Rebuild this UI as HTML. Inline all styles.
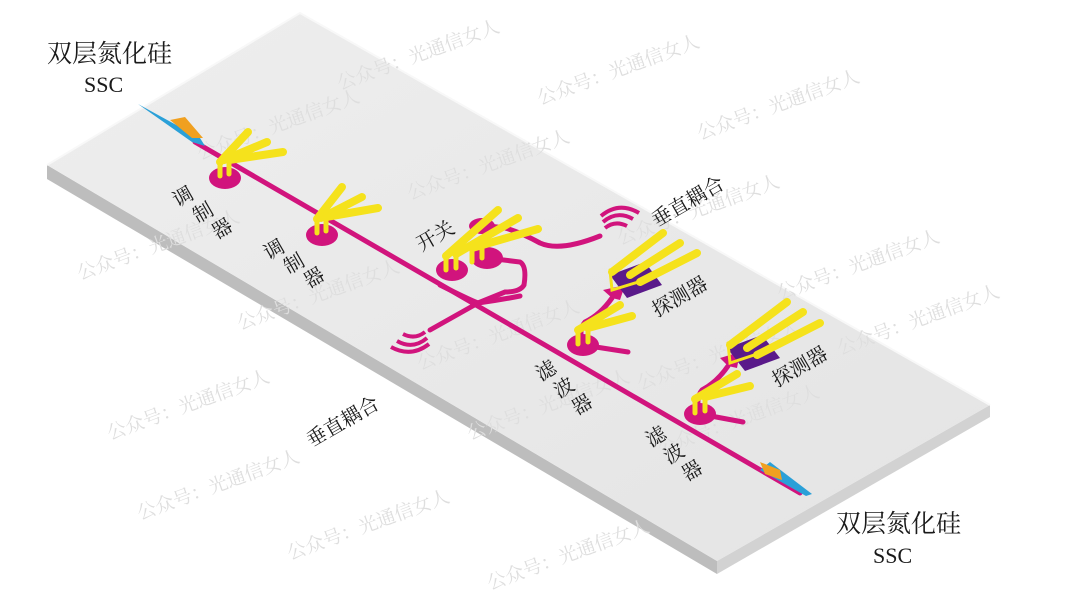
<!DOCTYPE html>
<html><head><meta charset="utf-8"><style>
html,body{margin:0;padding:0;background:#fff;}
svg{display:block;}
text{font-family:"Liberation Serif","Noto Serif CJK SC","Noto Sans CJK SC",serif;fill:#1a1a1a;}
.wm{fill:#dedede;font-size:19px;font-family:"Liberation Serif","Noto Serif CJK SC",serif;}
.lb{font-size:20px;}
</style></head><body>
<svg width="1080" height="608" viewBox="0 0 1080 608" xmlns="http://www.w3.org/2000/svg">
<defs>
<linearGradient id="top" x1="0" y1="0" x2="1" y2="1">
<stop offset="0" stop-color="#eeeeee"/><stop offset="1" stop-color="#e4e4e4"/></linearGradient>
</defs>
<polygon points="47,165 717,561 717,574 47,179" fill="#bdbdbd"/>
<polygon points="717,561 990,405 990,417 717,574" fill="#d2d2d2"/>
<polygon points="300,13 990,405 717,561 47,165" fill="url(#top)"/>
<polyline points="47,165 300,13 990,405" fill="none" stroke="#f8f8f8" stroke-width="2"/>

<g class="wm">
<text x="340" y="90" transform="rotate(-20 340 90)" class="wm">公众号：光通信女人</text>
<text x="540" y="105" transform="rotate(-20 540 105)" class="wm">公众号：光通信女人</text>
<text x="700" y="140" transform="rotate(-20 700 140)" class="wm">公众号：光通信女人</text>
<text x="200" y="160" transform="rotate(-20 200 160)" class="wm">公众号：光通信女人</text>
<text x="410" y="200" transform="rotate(-20 410 200)" class="wm">公众号：光通信女人</text>
<text x="620" y="245" transform="rotate(-20 620 245)" class="wm">公众号：光通信女人</text>
<text x="80" y="280" transform="rotate(-20 80 280)" class="wm">公众号：光通信女人</text>
<text x="240" y="330" transform="rotate(-20 240 330)" class="wm">公众号：光通信女人</text>
<text x="780" y="300" transform="rotate(-20 780 300)" class="wm">公众号：光通信女人</text>
<text x="420" y="370" transform="rotate(-20 420 370)" class="wm">公众号：光通信女人</text>
<text x="110" y="440" transform="rotate(-20 110 440)" class="wm">公众号：光通信女人</text>
<text x="640" y="390" transform="rotate(-20 640 390)" class="wm">公众号：光通信女人</text>
<text x="470" y="440" transform="rotate(-20 470 440)" class="wm">公众号：光通信女人</text>
<text x="840" y="355" transform="rotate(-20 840 355)" class="wm">公众号：光通信女人</text>
<text x="140" y="520" transform="rotate(-20 140 520)" class="wm">公众号：光通信女人</text>
<text x="290" y="560" transform="rotate(-20 290 560)" class="wm">公众号：光通信女人</text>
<text x="660" y="455" transform="rotate(-20 660 455)" class="wm">公众号：光通信女人</text>
<text x="490" y="590" transform="rotate(-20 490 590)" class="wm">公众号：光通信女人</text>
</g>

<g fill="none" stroke="#d1147d" stroke-width="5" stroke-linecap="round">
<line x1="195" y1="142" x2="800" y2="493"/>
<path d="M487,258 L520,262 Q527,266 524,285 Q520,292 505,292 L478,303"/>
<path d="M440,285 Q470,300 478,303 Q500,300 520,296"/>
<path d="M478,303 L430,330"/>
<path d="M480,225 L505,228 Q520,232 540,243 Q560,252 600,236"/>
<path d="M583,345 Q578,330 585,322 Q600,315 612,298"/>
<path d="M583,345 L628,352"/>
<path d="M700,414 Q695,398 702,390 Q717,382 728,366"/>
<path d="M700,414 L743,422"/>
</g>
<g fill="none" stroke="#d1147d" stroke-width="4">
<path d="M605,228 q10,-8 22,-2"/><path d="M603,222 q14,-12 30,-3"/><path d="M601,216 q18,-15 38,-3"/>
<path d="M425,332 q-10,8 -22,2"/><path d="M427,338 q-14,12 -30,3"/><path d="M429,344 q-18,14 -38,3"/>
</g>
<g fill="#d1147d">
<ellipse cx="225" cy="178" rx="16" ry="11"/>
<ellipse cx="322" cy="235" rx="16" ry="11"/>
<ellipse cx="452" cy="270" rx="16" ry="11"/>
<ellipse cx="487" cy="258" rx="16" ry="11"/>
<ellipse cx="482" cy="226" rx="13" ry="8"/>
<ellipse cx="583" cy="345" rx="16" ry="11"/>
<ellipse cx="700" cy="414" rx="16" ry="11"/>
<polygon points="612,298 603,290 625,285 620,300"/>
<polygon points="728,366 720,358 740,352 737,368"/>
</g>
<polygon points="138,104 200,138 205,146 192,142" fill="#2aa0d8"/>
<polygon points="170,120 185,117 203,138 192,138" fill="#f0a020"/>
<polygon points="770,462 812,494 806,496 760,470" fill="#2aa0d8"/>
<polygon points="760,462 780,470 782,480 765,474" fill="#f0a020"/>

<polygon points="610,275 645,262 662,285 627,298" fill="#5a1a8a"/>
<polygon points="727,348 762,335 780,358 745,371" fill="#5a1a8a"/>

<g stroke="#f5e21c" stroke-linecap="round" fill="none">
<g stroke-width="5">
<line x1="220" y1="176" x2="220" y2="162"/><line x1="229" y1="174" x2="229" y2="160"/>
<line x1="317" y1="233" x2="317" y2="219"/><line x1="326" y1="231" x2="326" y2="217"/>
<line x1="446" y1="270" x2="446" y2="256"/><line x1="456" y1="268" x2="456" y2="254"/>
<line x1="472" y1="262" x2="472" y2="248"/><line x1="482" y1="258" x2="482" y2="244"/>
<line x1="578" y1="344" x2="578" y2="330"/><line x1="588" y1="342" x2="588" y2="328"/>
<line x1="695" y1="413" x2="695" y2="399"/><line x1="705" y1="411" x2="705" y2="397"/>
</g>
<g stroke-width="8">
<path d="M220,162 L248,132"/><path d="M224,160 L267,142"/><path d="M229,160 L283,152"/>
<path d="M317,219 L342,187"/><path d="M321,218 L362,197"/><path d="M326,217 L378,208"/>
<path d="M446,256 L498,210"/><path d="M456,254 L518,218"/><path d="M472,248 L538,229"/>
<path d="M578,330 L620,305"/><path d="M588,328 L632,316"/>
<path d="M695,399 L737,374"/><path d="M705,397 L750,386"/>
<path d="M612,272 L663,233"/><path d="M630,275 L680,243"/><path d="M640,282 L697,253"/>
<path d="M730,345 L787,302"/><path d="M747,348 L803,312"/><path d="M757,355 L820,323"/>
</g>
<path d="M610,270 L612,290 L645,280" stroke-width="3"/>
<path d="M728,343 L730,363 L763,352" stroke-width="3"/>
</g>

<text x="47" y="62" font-size="25">双层氮化硅</text>
<text x="84" y="92" font-size="22">SSC</text>
<text x="836" y="532" font-size="25">双层氮化硅</text>
<text x="873" y="563" font-size="22">SSC</text>

<g class="lb">
<text x="173" y="204" transform="rotate(-30 182 197)" class="lb">调</text>
<text x="193" y="220" transform="rotate(-30 202 213)" class="lb">制</text>
<text x="212" y="236" transform="rotate(-30 221 229)" class="lb">器</text>
<text x="264" y="257" transform="rotate(-30 273 250)" class="lb">调</text>
<text x="284" y="271" transform="rotate(-30 293 264)" class="lb">制</text>
<text x="304" y="285" transform="rotate(-30 313 278)" class="lb">器</text>
<text x="416" y="243" transform="rotate(-30 435 237)" class="lb">开关</text>
<text x="536" y="378" transform="rotate(-30 545 371)" class="lb">滤</text>
<text x="554" y="395" transform="rotate(-30 563 388)" class="lb">波</text>
<text x="572" y="412" transform="rotate(-30 581 405)" class="lb">器</text>
<text x="646" y="444" transform="rotate(-30 655 437)" class="lb">滤</text>
<text x="664" y="461" transform="rotate(-30 673 454)" class="lb">波</text>
<text x="682" y="478" transform="rotate(-30 691 471)" class="lb">器</text>
<text x="650" y="305" transform="rotate(-30 677 298)" class="lb">探测器</text>
<text x="770" y="375" transform="rotate(-30 797 368)" class="lb">探测器</text>
<text x="648" y="210" transform="rotate(-30 685 203)" class="lb">垂直耦合</text>
<text x="303" y="430" transform="rotate(-30 340 423)" class="lb">垂直耦合</text>
</g>
</svg>
</body></html>
